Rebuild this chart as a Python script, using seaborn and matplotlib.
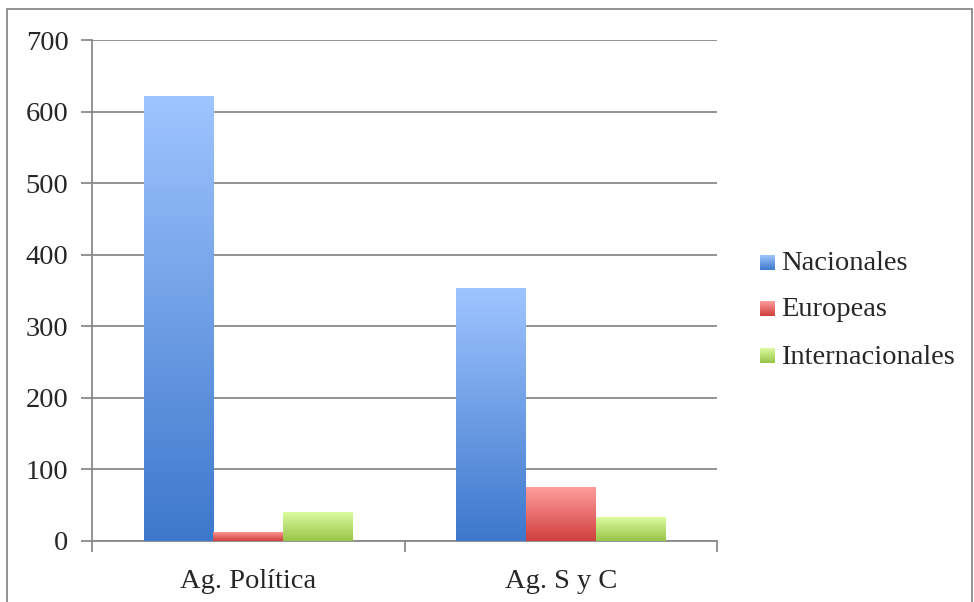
import numpy as np
import pandas as pd
import matplotlib
matplotlib.use("Agg")
import matplotlib.pyplot as plt
import seaborn as sns
from matplotlib.colors import LinearSegmentedColormap
from matplotlib.patches import Rectangle

categories = ["Ag. Política", "Ag. S y C"]
series = ["Nacionales", "Europeas", "Internacionales"]
nacionales = [622, 354]
europeas = [13, 75]
internacionales = [40, 33]

# top / bottom colours of each gradient
grad_colors = {
    "Nacionales": ("#9fc5ff", "#3d78cc"),
    "Europeas": ("#ff9d9c", "#cf3f3e"),
    "Internacionales": ("#dcfba0", "#98c448"),
}

df = pd.DataFrame({
    "cat": categories * 3,
    "serie": [s for s in series for _ in categories],
    "valor": nacionales + europeas + internacionales,
})

sns.set_style("white")
plt.rcParams["font.family"] = ["Liberation Serif", "DejaVu Serif"]
fsize = 20.5

fig = plt.figure(figsize=(9.74, 6.02), dpi=100)
ax = fig.add_axes([92 / 974, 1 - 541 / 602, (717 - 92) / 974, (541 - 40) / 602])

sns.barplot(data=df, x="cat", y="valor", hue="serie", hue_order=series,
            order=categories, width=0.67, ax=ax, legend=False)

# replace flat fills with vertical gradients
for serie, cont in zip(series, ax.containers):
    top, bottom = grad_colors[serie]
    cmap = LinearSegmentedColormap.from_list(serie, [bottom, top])
    for bar in cont:
        bar.set_facecolor("none")
        bar.set_edgecolor("none")
        x0, y0 = bar.get_x(), bar.get_y()
        w, h = bar.get_width(), bar.get_height()
        grad = np.linspace(0, 1, 256).reshape(-1, 1)
        im = ax.imshow(grad, cmap=cmap, origin="lower", aspect="auto",
                       extent=[x0, x0 + w, y0, y0 + h], zorder=3)
        im.set_clip_path(bar)

ax.set_xlim(-0.5, 1.5)
ax.set_ylim(0, 700)
ax.set_yticks(range(0, 701, 100))
ax.set_xlabel("")
ax.set_ylabel("")

ax.yaxis.grid(True, color="#8a8a8a", linewidth=1.3, zorder=0)
ax.set_axisbelow(True)
for s in ["top", "right"]:
    ax.spines[s].set_visible(False)
for s in ["left", "bottom"]:
    ax.spines[s].set_color("#8a8a8a")
    ax.spines[s].set_linewidth(1.3)

ax.tick_params(axis="y", which="major", length=8, width=1.3, color="#8a8a8a",
               labelsize=fsize, pad=9, left=True)
ax.set_xticks([0, 1])
ax.set_xticklabels(categories)
ax.set_xticks([-0.5, 0.5, 1.5], minor=True)
ax.tick_params(axis="x", which="major", length=0, labelsize=fsize, pad=20)
ax.tick_params(axis="x", which="minor", length=8, width=1.3, color="#8a8a8a",
               bottom=True)

# legend with small gradient squares
leg_y = [262, 308, 355]
for serie, yp in zip(series, leg_y):
    top, bottom = grad_colors[serie]
    cmap = LinearSegmentedColormap.from_list(serie, [bottom, top])
    lax = fig.add_axes([760 / 974, 1 - (yp + 8) / 602, 15 / 974, 15 / 602])
    lax.imshow(np.linspace(0, 1, 64).reshape(-1, 1), cmap=cmap, origin="lower",
               aspect="auto")
    lax.axis("off")
    fig.text(781 / 974, 1 - (yp + 2) / 602, serie, fontsize=fsize, va="center", ha="left")

fig.patches.append(Rectangle((7 / 974, -0.01), (972 - 7) / 974, 1 - 9 / 602 + 0.01,
                             transform=fig.transFigure, fill=False,
                             edgecolor="#8a8a8a", linewidth=1.3))

fig.savefig("out.png", dpi=100)
